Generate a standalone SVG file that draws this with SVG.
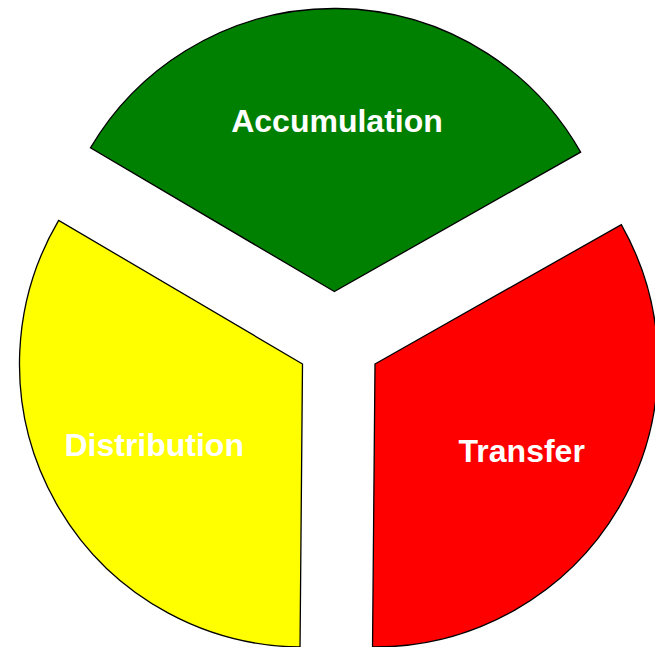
<svg xmlns="http://www.w3.org/2000/svg" width="655" height="647" viewBox="0 0 655 647">
<style>
.sec{stroke:#000;stroke-width:1.3;stroke-linejoin:miter}
.lbl{font-family:"Liberation Sans",Arial,sans-serif;font-weight:bold;font-size:32px;fill:#fff;text-anchor:middle}
</style>
<rect width="655" height="647" fill="#fff"/>
<g id="accumulation">
<path class="sec" fill="#008000" d="M334.3,291.5 L90.46,147.87 A283,283 0 0,1 580.61,152.14 Z"/>
<text class="lbl" x="337" y="131.5">Accumulation</text>
</g>
<g id="distribution">
<path class="sec" fill="#ffff00" d="M302.5,364 L58.66,220.37 A283,283 0 0,0 300.03,646.99 Z"/>
<text class="lbl" x="154.2" y="455.5">Distribution</text>
</g>
<g id="transfer">
<path class="sec" fill="#ff0000" d="M375,364 L621.31,224.64 A283,283 0 0,1 372.53,646.99 Z"/>
<text class="lbl" x="521.7" y="461.5">Transfer</text>
</g>
<g id="connectors"/>
</svg>
